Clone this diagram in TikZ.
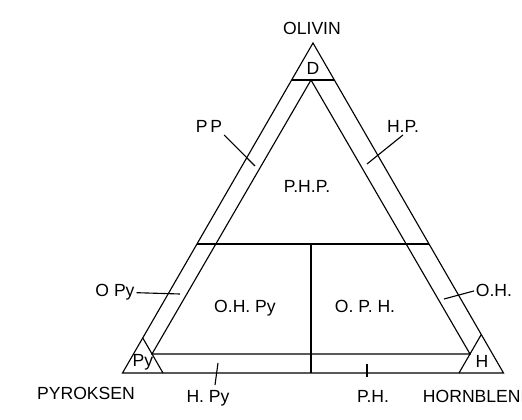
\documentclass[tikz,border=0pt]{standalone}
\usepackage{fontspec}
\setmainfont{Liberation Sans}
\usetikzlibrary{positioning, calc}

\begin{document}
\begin{tikzpicture}[
  x=0.025cm, y=-0.025cm, line width=0.8pt,
  lbl/.style = {font=\fontsize{12.5}{14}\selectfont, inner sep=1pt, anchor=base},
]
  \useasboundingbox (0,0) rectangle (522,420);

  % ---- outer and inner triangle ----
  \coordinate (top)  at (313,43);
  \coordinate (bl)   at (122.5,373);
  \coordinate (br)   at (503.5,373);
  \coordinate (itop) at (311,80);
  \coordinate (ibl)  at (152,354);
  \coordinate (ibr)  at (470,354);

  \draw (top)  -- (bl)  -- (br)  -- cycle;
  \draw (itop) -- (ibl) -- (ibr) -- cycle;

  % ---- corner cuts (D, Py, H) ----
  \coordinate (dl)  at (291.6,80);
  \coordinate (dr)  at (334.4,80);
  \coordinate (pyt) at (142.8,338);
  \coordinate (pyb) at (163,373);
  \coordinate (ht)  at (481.3,334.5);
  \coordinate (hb)  at (459,373);

  \draw (dl)  -- (dr);
  \draw (pyt) -- (pyb);
  \draw (ht)  -- (hb);

  % ---- fields ----
  \coordinate (ml) at (197,244);
  \coordinate (mr) at (429,244);
  \coordinate (mc) at (311,244);
  \coordinate (mb) at (311,373);

  \draw (ml) -- (mr);
  \draw (mc) -- (mb);

  % ---- labels ----
  \node[lbl] (olivin)   at (312,35)  {OLIVIN};
  \node[lbl] (d)        at (313,75)  {D};
  \node[lbl] (pp)       at (209,133) {P\,P};
  \node[lbl] (hp)       at (403,133) {H.P.};
  \node[lbl] (php)      at (307,193) {P.H.P.};
  \node[lbl] (opy)      at (115,297) {O Py};
  \node[lbl] (ohpy)     at (245,313) {O.H. Py};
  \node[lbl] (oph)      at (365,313) {O. P. H.};
  \node[lbl] (oh)       at (494,297) {O.H.};
  \node[lbl] (py)       at (143,367) {Py};
  \node[lbl] (h)        at (482,368) {H};
  \node[lbl] (pyroksen) at (86,400)  {PYROKSEN};
  \node[lbl] (hpy)      at (208,403) {H. Py};
  \node[lbl] (ph)       at (373,403) {P.H.};
  \node[lbl, anchor=base west] (hornblend) at (421,403) {HORNBLEND};

  % ---- leader lines ----
  \coordinate (pp-end)  at (255,166);
  \coordinate (hp-end)  at (367,164);
  \coordinate (opy-end) at (180,294);
  \coordinate (oh-end)  at (444,299);
  \coordinate (hpy-a)   at (218,363);
  \coordinate (hpy-b)   at (215,385);
  \coordinate (ph-a)    at (367,364);
  \coordinate (ph-b)    at (367,377);

  \draw (pp.south east) -- (pp-end);
  \draw (hp.south)      -- (hp-end);
  \draw (opy.east)      -- (opy-end);
  \draw (oh.west)       -- (oh-end);
  \draw (hpy-a) -- (hpy-b);
  \draw (ph-a)  -- (ph-b);
\end{tikzpicture}
\end{document}
